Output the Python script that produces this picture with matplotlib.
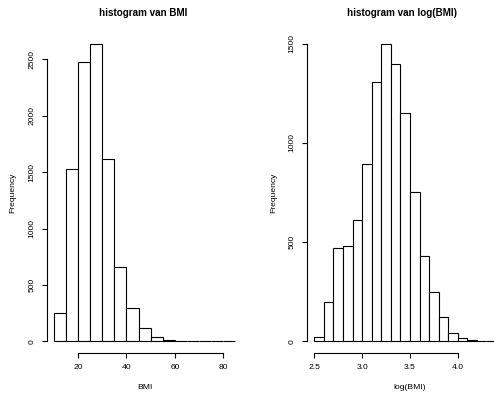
import matplotlib
matplotlib.use("Agg")
import matplotlib.pyplot as plt
import numpy as np

plt.rcParams['font.family'] = ['Liberation Sans', 'DejaVu Sans']

# Histogram of BMI (bin width 5, from 10 to 85)
bmi_edges = [10, 15, 20, 25, 30, 35, 40, 45, 50, 55, 60, 65, 70, 75, 80, 85]
bmi_counts = [250, 1525, 2480, 2640, 1615, 663, 296, 115, 36, 15, 6, 5, 0, 0, 3]
bmi_xticks = [20, 40, 60, 80]
bmi_yticks = [0, 500, 1000, 1500, 2000, 2500]

# Histogram of log(BMI) (bin width 0.1, from 2.5 to 4.5)
log_edges = [2.5, 2.6, 2.7, 2.8, 2.9, 3.0, 3.1, 3.2, 3.3, 3.4, 3.5,
             3.6, 3.7, 3.8, 3.9, 4.0, 4.1, 4.2, 4.3, 4.4, 4.5]
log_counts = [20, 200, 472, 480, 613, 892, 1305, 1500, 1396, 1149,
              751, 432, 247, 121, 40, 17, 9, 3, 2, 1]
log_xticks = [2.5, 3.0, 3.5, 4.0]
log_xticklabels = ['2.5', '3.0', '3.5', '4.0']
log_yticks = [0, 500, 1000, 1500]

W, H = 494, 395
fig = plt.figure(figsize=(W / 100, H / 100), dpi=100)
fig.patch.set_facecolor('white')

lw = 0.8
fs = 6.1


def make_panel(rect, edges, counts, xticks, xticklabels, yticks, xlabel):
    ax = fig.add_axes(rect)
    edges = np.asarray(edges, dtype=float)
    widths = np.diff(edges)
    ax.bar(edges[:-1], counts, width=widths, align='edge',
           facecolor='white', edgecolor='black', linewidth=lw)
    rng = edges[-1] - edges[0]
    ax.set_xlim(edges[0] - 0.04 * rng, edges[-1] + 0.04 * rng)
    ymax = max(counts)
    ax.set_ylim(-0.04 * ymax, ymax * 1.04)
    for s in ['top', 'right']:
        ax.spines[s].set_visible(False)
    ax.spines['left'].set_bounds(yticks[0], yticks[-1])
    ax.spines['bottom'].set_bounds(xticks[0], xticks[-1])
    for s in ['left', 'bottom']:
        ax.spines[s].set_linewidth(lw)
    ax.set_xticks(xticks)
    ax.set_xticklabels(xticklabels, fontsize=fs)
    ax.set_yticks(yticks)
    ax.set_yticklabels([str(v) for v in yticks], fontsize=fs,
                       rotation=90, va='center')
    ax.tick_params(axis='both', length=3.6, width=lw, pad=4.3, colors='black')
    ax.set_xlabel(xlabel, fontsize=fs, labelpad=9.5)
    ax.set_ylabel('Frequency', fontsize=fs, labelpad=8.5)
    ax.patch.set_alpha(0)
    return ax


def rect_px(left, right, top, bottom):
    return [left / W, (H - bottom) / H, (right - left) / W, (bottom - top) / H]


ax1 = make_panel(rect_px(46.5, 242.7, 31.8, 353.3), bmi_edges, bmi_counts,
                 bmi_xticks, [str(v) for v in bmi_xticks], bmi_yticks, 'BMI')
ax2 = make_panel(rect_px(306.7, 513.2, 31.8, 353.3), log_edges, log_counts,
                 log_xticks, log_xticklabels, log_yticks, 'log(BMI)')

fig.text(143 / W, 1 - 13.3 / H, 'histogram van BMI', ha='center', va='center',
         fontsize=7.1, fontweight='bold')
fig.text(401.7 / W, 1 - 13.3 / H, 'histogram van log(BMI)', ha='center',
         va='center', fontsize=7.1, fontweight='bold')

fig.savefig('out.png', dpi=100)
